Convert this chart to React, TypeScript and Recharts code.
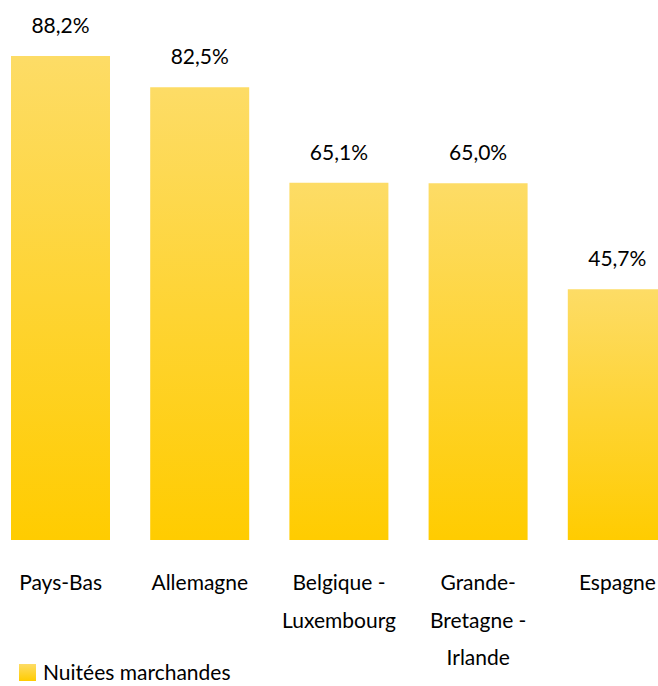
import { BarChart, Bar, XAxis, YAxis, LabelList } from 'recharts';

const countries = [
  ['Pays-Bas'],
  ['Allemagne'],
  ['Belgique -', 'Luxembourg'],
  ['Grande-', 'Bretagne -', 'Irlande'],
  ['Espagne'],
];
const shares = [88.2, 82.5, 65.1, 65.0, 45.7];
const seriesName = 'Nuitées marchandes';

const data = countries.map((lines, i) => ({
  name: lines.join(' '),
  value: shares[i],
}));

const FONT = 'Lato, "Open Sans", sans-serif';

const fmt = (v: number) => v.toFixed(1).replace('.', ',') + '%';

function CountryTick({ x, y, payload, index }: any) {
  const lines = countries[index] ?? [payload.value];
  return (
    <text x={x} y={y} textAnchor="middle" fontFamily={FONT} fontSize={21} fill="#000">
      {lines.map((l: string, i: number) => (
        <tspan key={i} x={x} dy={i === 0 ? 42 : 37.5}>
          {l}
        </tspan>
      ))}
    </text>
  );
}

export default function App() {
  return (
    <div
      style={{
        position: 'absolute',
        left: 0,
        top: 0,
        width: 658,
        height: 686,
        overflow: 'hidden',
        background: '#fff',
      }}
    >
      <div style={{ position: 'absolute', left: -9, top: 0 }}>
        <BarChart
          width={696}
          height={700}
          data={data}
          margin={{ top: 56, right: 0, left: 0, bottom: 0 }}
        >
          <defs>
            <linearGradient id="gold" x1="0" y1="0" x2="0" y2="1">
              <stop offset="0%" stopColor="#fddc66" />
              <stop offset="100%" stopColor="#ffcc00" />
            </linearGradient>
          </defs>
          <XAxis
            dataKey="name"
            axisLine={false}
            tickLine={false}
            height={160}
            interval={0}
            tick={<CountryTick />}
          />
          <YAxis hide domain={[0, 'dataMax']} />
          <Bar dataKey="value" name={seriesName} fill="url(#gold)" barSize={99} isAnimationActive={false}>
            <LabelList
              dataKey="value"
              position="top"
              offset={23}
              formatter={(v: any) => fmt(Number(v))}
              style={{ fontFamily: FONT, fontSize: 21, fill: '#000' }}
            />
          </Bar>
        </BarChart>
      </div>
      <div
        style={{
          position: 'absolute',
          left: 19,
          top: 661,
          display: 'flex',
          alignItems: 'center',
          fontFamily: FONT,
          fontSize: 21,
          lineHeight: '22px',
          color: '#000',
        }}
      >
        <span
          style={{
            width: 17,
            height: 17,
            marginRight: 7,
            background: 'linear-gradient(#fddc66, #ffcc00)',
            display: 'inline-block',
          }}
        />
        {seriesName}
      </div>
    </div>
  );
}
